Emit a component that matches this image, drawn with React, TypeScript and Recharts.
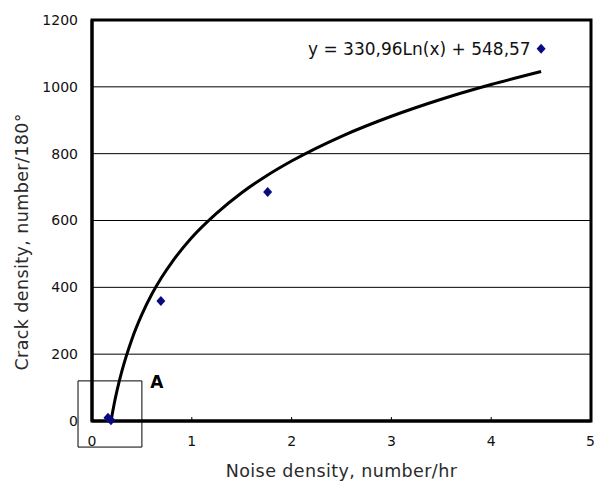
import React from 'react';
import {
  ComposedChart, Line, Scatter, XAxis, YAxis, CartesianGrid,
  ReferenceArea, ReferenceDot,
} from 'recharts';

// Measured data points (noise density, crack density)
const pointX = [0.16, 0.19, 0.69, 1.76, 4.5];
const pointY = [10, 2, 359, 685, 1114];

// Logarithmic trendline y = 330.96 Ln(x) + 548.57, read at these x values
const trendX = [0.19, 0.2, 0.22, 0.25, 0.3, 0.4, 0.5, 0.6, 0.7, 0.8, 1.0, 1.25, 1.5, 1.75, 2, 2.5, 3, 3.5, 4, 4.5];
const trendY = [0, 16, 48, 90, 150, 245, 319, 380, 431, 475, 549, 622, 683, 734, 778, 852, 912, 963, 1007, 1046];

const xTicks = [0, 1, 2, 3, 4, 5];
const yTicks = [0, 200, 400, 600, 800, 1000, 1200];

const equationText = 'y = 330,96Ln(x) + 548,57';
const boxLabel = 'A';
const xTitle = 'Noise density, number/hr';
const yTitle = 'Crack density, number/180°';

const points = pointX.map((x, i) => ({ x, y: pointY[i] }));
const trend = trendX.map((x, i) => ({ x, t: trendY[i] }));

const FONT = '"DejaVu Sans", Verdana, sans-serif';

const Diamond = (props: any) => {
  const { cx, cy } = props;
  if (cx == null || cy == null) return null;
  return (
    <polygon
      points={`${cx},${cy - 5} ${cx + 4.5},${cy} ${cx},${cy + 5} ${cx - 4.5},${cy}`}
      fill="#0a0a80"
    />
  );
};

export default function App() {
  return (
    <div style={{ position: 'absolute', left: 0, top: 0, width: 594, height: 484, background: '#fff' }}>
      <ComposedChart
        width={594}
        height={484}
        margin={{ top: 20, right: 3, bottom: 13, left: 0 }}
        style={{ fontFamily: FONT }}
      >
        <CartesianGrid horizontal vertical={false} stroke="#000" strokeWidth={1} />
        <XAxis
          type="number"
          dataKey="x"
          domain={[0, 5]}
          ticks={xTicks}
          allowDataOverflow
          height={50}
          tickSize={-4}
          tickMargin={19}
          tickLine={{ stroke: '#000', strokeWidth: 1 }}
          axisLine={{ stroke: '#000', strokeWidth: 3 }}
          tick={{ fill: '#111', fontSize: 14, fontFamily: FONT }}
          label={{ value: xTitle, position: 'insideBottom', offset: -6, fill: '#2a2a2a', fontSize: 17.5, letterSpacing: 0.4, fontFamily: FONT }}
        />
        <YAxis
          type="number"
          domain={[0, 1200]}
          ticks={yTicks}
          width={92}
          tickLine={false}
          tickSize={6}
          tickMargin={8}
          axisLine={{ stroke: '#000', strokeWidth: 3 }}
          tick={{ fill: '#111', fontSize: 14, fontFamily: FONT }}
          label={{ value: yTitle, angle: -90, position: 'insideLeft', offset: 22, dy: 150, fill: '#2a2a2a', fontSize: 17.5, letterSpacing: 0.4, fontFamily: FONT }}
        />
        <ReferenceArea
          x1={0}
          x2={5}
          y1={0}
          y2={1200}
          fill="none"
          stroke="#000"
          strokeWidth={3}
          fillOpacity={0}
        />
        <ReferenceArea
          x1={-0.14}
          x2={0.5}
          y1={-78}
          y2={120}
          ifOverflow="visible"
          fill="none"
          fillOpacity={0}
          stroke="#000"
          strokeWidth={1}
        />
        <Line
          data={trend}
          dataKey="t"
          type="monotone"
          stroke="#000"
          strokeWidth={3}
          dot={false}
          activeDot={false}
          isAnimationActive={false}
        />
        <Scatter data={points} dataKey="y" shape={<Diamond />} isAnimationActive={false} />
        <ReferenceDot
          x={3.28}
          y={1113}
          r={0}
          fill="none"
          stroke="none"
          label={{ value: equationText, position: 'center', fill: '#111', fontSize: 17, fontFamily: FONT }}
        />
        <ReferenceDot
          x={0.65}
          y={117}
          r={0}
          fill="none"
          stroke="none"
          ifOverflow="visible"
          label={{ value: boxLabel, position: 'center', fill: '#000', fontSize: 17, fontWeight: 'bold', fontFamily: FONT }}
        />
      </ComposedChart>
    </div>
  );
}
